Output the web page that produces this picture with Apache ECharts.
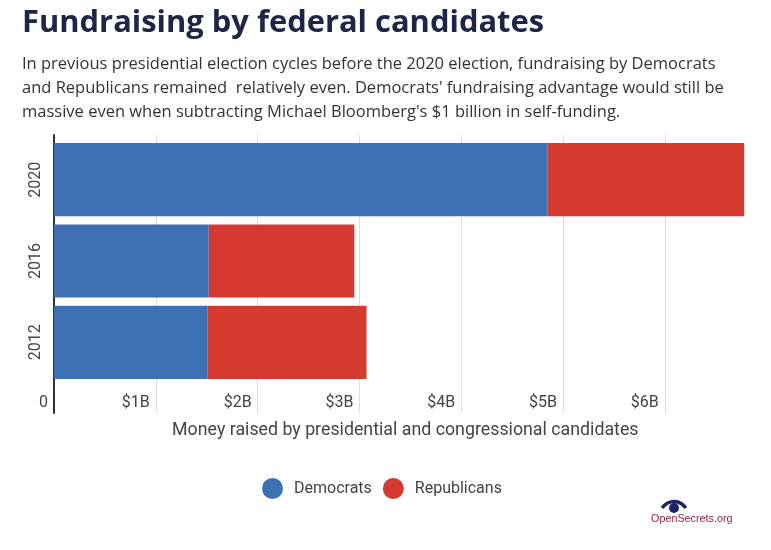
<!DOCTYPE html>
<html>
<head>
<meta charset="utf-8">
<script src="https://cdn.jsdelivr.net/npm/echarts@6/dist/echarts.min.js"></script>
<style>
  html, body { margin: 0; padding: 0; background: #fff; }
  #chart { width: 771px; height: 550px; }
</style>
</head>
<body>
<div id="chart"></div>
<script>
// data, in billions of dollars
var years = ['2012', '2016', '2020'];
var democrats = [1.51, 1.52, 4.85];
var republicans = [1.56, 1.43, 1.93];
var seriesNames = ['Democrats', 'Republicans'];

var chart = echarts.init(document.getElementById('chart'));

var plotLeft = 54;
var plotWidth = 712.6;

var options = {
  animation: false,
  textStyle: { fontFamily: 'Roboto' },
  title: [
    {
      text: 'Fundraising by federal candidates',
      left: 17,
      top: 3,
      textStyle: {
        fontFamily: 'Open Sans',
        fontWeight: 'bold',
        fontSize: 30.9,
        color: '#1d2645'
      }
    },
    {
      text: 'In previous presidential election cycles before the 2020 election, fundraising by Democrats\n' +
            'and Republicans remained  relatively even. Democrats\' fundraising advantage would still be\n' +
            'massive even when subtracting Michael Bloomberg\'s $1 billion in self-funding.',
      left: 17,
      top: 47,
      textStyle: {
        fontFamily: 'Open Sans',
        fontWeight: 'normal',
        fontSize: 16.5,
        lineHeight: 24.3,
        color: '#333'
      }
    }
  ],
  color: ['#3e71b4', '#d53a31'],
  legend: {
    data: seriesNames,
    left: 257,
    top: 473,
    icon: 'circle',
    itemWidth: 21,
    itemHeight: 21,
    itemGap: 11,
    textStyle: {
      fontSize: 16,
      color: '#444',
      padding: [0, 0, 0, 6]
    }
  },
  grid: [
    { left: plotLeft, width: plotWidth, top: 139, height: 244 },
    { left: plotLeft, width: plotWidth, top: 135, height: 278 }
  ],
  xAxis: [
    {
      gridIndex: 0,
      type: 'value',
      min: 0,
      max: 7,
      interval: 1,
      show: false
    },
    {
      gridIndex: 1,
      type: 'value',
      min: 0,
      max: 7,
      interval: 1,
      name: 'Money raised by presidential and congressional candidates',
      nameLocation: 'middle',
      nameGap: 9,
      nameTextStyle: {
        fontSize: 17.8,
        color: '#444',
        verticalAlign: 'top',
        padding: [0, 10, 0, 0]
      },
      axisLine: { show: false },
      axisTick: { show: false },
      axisLabel: {
        inside: true,
        margin: 2,
        align: 'right',
        fontSize: 16,
        color: '#444',
        padding: [0, 6, 0, 0],
        showMaxLabel: false,
        formatter: function (v) { return v === 0 ? '0' : '$' + v + 'B'; }
      },
      splitLine: {
        show: true,
        showMinLine: false,
        showMaxLine: false,
        lineStyle: { color: '#dddddd', width: 1 }
      }
    }
  ],
  yAxis: [
    {
      gridIndex: 0,
      type: 'category',
      data: years,
      axisLine: { show: false },
      axisTick: { show: false },
      axisLabel: {
        rotate: 90,
        margin: 10,
        fontSize: 16,
        color: '#444'
      }
    },
    {
      gridIndex: 1,
      type: 'value',
      min: 0,
      max: 1,
      axisLine: { show: true, lineStyle: { color: '#333', width: 2 } },
      axisTick: { show: false },
      axisLabel: { show: false },
      splitLine: { show: false }
    }
  ],
  series: [
    {
      name: seriesNames[0],
      type: 'bar',
      stack: 'total',
      xAxisIndex: 0,
      yAxisIndex: 0,
      barCategoryGap: '10%',
      data: democrats
    },
    {
      name: seriesNames[1],
      type: 'bar',
      stack: 'total',
      xAxisIndex: 0,
      yAxisIndex: 0,
      barCategoryGap: '10%',
      data: republicans
    }
  ],
  graphic: [
    {
      type: 'group',
      left: 651,
      top: 499,
      children: [
        {
          type: 'arc',
          shape: { cx: 24, cy: 14, r: 14, startAngle: Math.PI * 1.18, endAngle: Math.PI * 1.82 },
          style: { stroke: '#1b2566', lineWidth: 3.5, fill: null }
        },
        {
          type: 'circle',
          shape: { cx: 24, cy: 6.5, r: 5 },
          style: { fill: '#1b2566' }
        },
        {
          type: 'text',
          left: 1,
          top: 12,
          style: {
            text: 'OpenSecrets.org',
            fontFamily: 'Liberation Sans',
            fontSize: 10.8,
            fill: '#9c1c40'
          }
        }
      ]
    }
  ]
};

chart.setOption(options);
</script>
</body>
</html>
